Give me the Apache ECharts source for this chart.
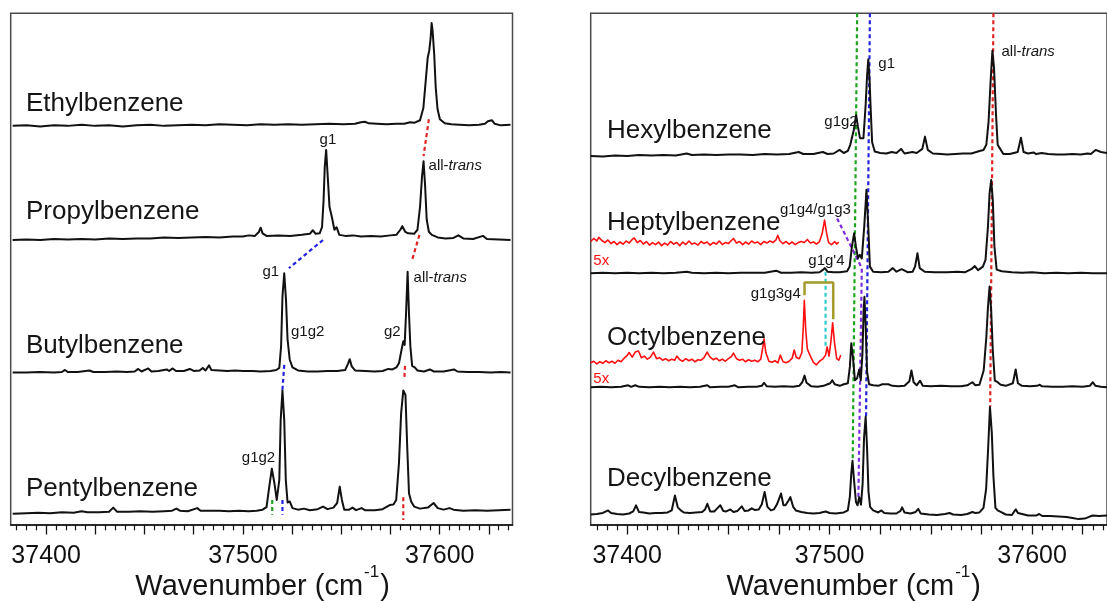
<!DOCTYPE html>
<html><head><meta charset="utf-8">
<script src="https://cdn.jsdelivr.net/npm/echarts@6/dist/echarts.min.js"></script>
<style>html,body{margin:0;padding:0;background:#fff}#c{width:1107px;height:601px}</style>
</head><body><div id="c"></div>
<script>
// ---------------- DATA ----------------
const wnMin = 37382, wnMax = 37637;
const tickLabels = [37400, 37500, 37600];
const leftNames = ['Ethylbenzene', 'Propylbenzene', 'Butylbenzene', 'Pentylbenzene'];
const rightNames = ['Hexylbenzene', 'Heptylbenzene', 'Octylbenzene', 'Decylbenzene'];
const leftOffsets = [78.0, 55.7, 29.8, 2.5];
const rightOffsets = [72.3, 49.2, 26.9, 2.05];
const redOffsets = [55.1, 32.2]; // 5x traces: heptyl, octyl

const ethyl = [[37383,0],[37390,0.1],[37397,-0.1],[37404,0.1],[37411,0],[37418,0.2],[37425,0],[37432,0.1],[37439,-0.1],[37446,0.1],[37453,0.2],[37460,0],[37467,0.1],[37474,0.2],[37481,0.1],[37488,0.3],[37495,0.2],[37502,0.1],[37509,0.3],[37516,0.2],[37523,0.3],[37530,0.2],[37537,0.3],[37544,0.4],[37551,0.3],[37557,0.4],[37560,0.7],[37562,0.8],[37564,0.5],[37568,0.4],[37573,0.3],[37578,0.4],[37582,0.4],[37585,0.7],[37587,0.6],[37590,1.1],[37591.7,3.5],[37592.9,8.8],[37593.9,13.3],[37594.7,14.7],[37595.4,17.2],[37595.9,20.1],[37596.4,18.6],[37597.2,14.1],[37598.0,7.4],[37598.9,3.3],[37600.1,1.3],[37602.6,0.5],[37606,0.3],[37610,0.2],[37615,0.1],[37620,0.2],[37623,0.4],[37624.5,0.9],[37625.5,0.8],[37626.5,1.1],[37628,0.4],[37631,0.1],[37636,0.2]];

const propyl = [[37383,0],[37390,0.1],[37397,0],[37404,0.2],[37411,0.1],[37418,0.2],[37425,0.1],[37432,0.3],[37439,0.2],[37446,0.3],[37453,0.3],[37460,0.5],[37467,0.4],[37474,0.5],[37481,0.6],[37488,0.5],[37495,0.7],[37500,0.7],[37503,0.9],[37506,0.8],[37508,1.5],[37509,2.4],[37510,1.3],[37512,0.8],[37518,0.9],[37524,0.8],[37530,1.0],[37534,1.2],[37535.5,1.9],[37537,1.2],[37539,1.3],[37540.2,2.5],[37541,7.8],[37541.6,14.3],[37542.3,17.6],[37543,13.1],[37544,6.5],[37545.2,4.5],[37546.5,2.0],[37547.6,2.5],[37549,1.0],[37552,0.8],[37556,0.9],[37560,0.7],[37565,0.8],[37570,0.7],[37575,0.9],[37578,1.0],[37580,2.0],[37581,2.7],[37582.5,1.6],[37584,1.3],[37587,1.2],[37588.7,2.0],[37590,6.4],[37591,12.3],[37591.8,15.4],[37592.6,10.5],[37593.4,4.0],[37594.5,1.6],[37596,1.0],[37599,0.5],[37603,0.3],[37607,0.4],[37609.5,0.9],[37612,0.3],[37617,0.2],[37622,0.8],[37624,0.2],[37630,0.1],[37636,0]];

const butyl = [[37383,0],[37390,0],[37397,0.1],[37404,0],[37408,0.1],[37409.6,0.5],[37411,0.1],[37416,0.1],[37422,0.4],[37424,0.1],[37430,0.1],[37436,0.2],[37441,0.1],[37445,0.2],[37446.8,0.7],[37448.5,0.2],[37451.9,0.8],[37453.5,0.2],[37457,0.3],[37461.3,0.6],[37462.5,0.3],[37464.3,0.8],[37466,0.3],[37470,0.3],[37473,0.7],[37475,0.3],[37478,0.4],[37479.6,0.9],[37481,0.4],[37482.8,1.4],[37484,0.5],[37488,0.4],[37492,0.3],[37496,0.4],[37500,0.3],[37505,0.3],[37509,0.2],[37514,0.3],[37517,0.5],[37518.5,0.9],[37519.4,5.1],[37520.1,14.8],[37521,19.4],[37521.9,14.2],[37522.7,6.4],[37523.8,2.5],[37525.2,1.0],[37528,0.4],[37533,0.2],[37538,0.2],[37543,0.3],[37548,0.3],[37552,0.5],[37553.5,1.8],[37554.3,2.6],[37555.3,1.2],[37557,0.4],[37562,0.3],[37567,0.2],[37571,0.3],[37573.9,0.7],[37576,0.6],[37578,1.0],[37579.3,1.8],[37580.6,4.4],[37581.5,6.1],[37582.2,5.4],[37582.9,11.5],[37583.7,19.7],[37584.4,11.5],[37585.1,5.1],[37586,1.3],[37587.3,1.0],[37588.7,0.4],[37592,0.2],[37595,0.6],[37597,0.2],[37602,0.2],[37607.3,0.6],[37609,0.2],[37614,0.1],[37620,0.1],[37626,0],[37631,0.1],[37636,0]];

const pentyl = [[37383,-0.3],[37390,-0.2],[37396,-0.1],[37402,-0.2],[37408,0],[37414,-0.1],[37418,0.2],[37421,0],[37427,0],[37432,0.1],[37434.1,0.9],[37436,0.1],[37442,0.1],[37448,0.2],[37454,0.1],[37460,0.2],[37464,0.3],[37466.2,0.7],[37468,0.3],[37472,0.2],[37476.8,0.8],[37478.5,0.3],[37483,0.3],[37488,0.3],[37493,0.2],[37498,0.3],[37503,0.2],[37507,0.3],[37510,0.5],[37512,1.0],[37513.4,5.0],[37514.7,8.5],[37516,5.7],[37517.2,2.4],[37518.5,6.3],[37519.2,18.0],[37520.1,23.8],[37521,18.0],[37521.8,6.3],[37522.7,1.9],[37523.8,2.1],[37525.2,0.8],[37528,0.5],[37531,0.7],[37534,0.4],[37538,0.6],[37540.7,1.1],[37543,0.6],[37546,0.9],[37547.9,1.8],[37549.2,5.0],[37550.3,2.4],[37551.5,0.5],[37554,0.5],[37555.7,0.9],[37557.5,0.4],[37560.3,0.8],[37562,0.4],[37567,0.4],[37571,0.6],[37574.6,1.4],[37576.5,1.5],[37577.9,2.4],[37579.3,9.6],[37580.4,19.3],[37581.5,23.8],[37582.6,22.9],[37583.5,12.8],[37584.4,3.7],[37585.5,2.1],[37587,1.1],[37590,0.7],[37594,0.9],[37596.9,1.8],[37599,0.8],[37602,0.5],[37605,0.8],[37607,0.5],[37612,0.3],[37618,0.4],[37624,0.3],[37630,0.4],[37636,0.5]];

const hexyl = [[37382,-0.2],[37388,-0.3],[37394,-0.1],[37400,-0.2],[37406,0],[37412,-0.1],[37418,0],[37424,-0.1],[37429.4,0.3],[37432,0],[37438,0.1],[37444,0],[37450,0.1],[37456,0.1],[37462,0],[37468,0.2],[37474,0.1],[37480,0.2],[37484.7,0.6],[37487,0.2],[37492,0.2],[37496.6,0.6],[37499,0.2],[37502,0.3],[37504.9,1.0],[37507,0.4],[37509,0.8],[37510.2,2.0],[37512,5.0],[37513.1,7.8],[37514,5.5],[37515,3.3],[37516.7,3.3],[37517.8,9.8],[37518.5,15.5],[37519.1,18.7],[37519.7,15],[37520.2,9.8],[37521,2.5],[37522.3,0.7],[37525,0.4],[37528,0.3],[37530.7,0.6],[37533,0.4],[37535.3,1.2],[37537,0.3],[37540.9,0.6],[37543,0.4],[37545.8,1.2],[37547.1,3.6],[37548.5,1.0],[37551,0.3],[37555,0.2],[37558,0.1],[37562,0.2],[37566,0.3],[37570,0.3],[37574.1,0.8],[37576,1.0],[37577.4,2.0],[37578.5,6.5],[37579.5,14.3],[37580.4,20.4],[37581.2,17],[37582.2,7.8],[37583,2.0],[37584.1,1.3],[37585.8,0.2],[37589,0.2],[37592.9,0.6],[37594.5,3.4],[37595.8,0.6],[37598,0.3],[37600.7,0.5],[37602,0.2],[37604.7,0.4],[37608,0.2],[37612,0.1],[37616,0.1],[37620,0.2],[37624,0.1],[37627.4,0.3],[37629,0.2],[37631.4,1.0],[37634,0.6],[37637,0.4]];

const heptyl = [[37382,0],[37388,0.1],[37394,0],[37400,0.1],[37406,0],[37412,0.1],[37418,0],[37424,0.1],[37429.4,0.3],[37432,0.1],[37438,0],[37444,0.1],[37450,0],[37456,0.1],[37462,0.1],[37468,0.1],[37473.6,0.5],[37476,0.1],[37481,0.1],[37486,0.2],[37491,0.1],[37495,0.2],[37496.5,0.6],[37497.6,1.0],[37499,0.3],[37502,0.2],[37505,0.2],[37508.6,0.4],[37509.9,1.3],[37511,5.2],[37512.1,7.8],[37513,5.2],[37514,2.9],[37514.9,3.6],[37515.9,2.9],[37517.1,9.1],[37518.2,16.3],[37519.1,9.1],[37519.9,1.3],[37521.5,0.3],[37525.6,0.2],[37529,0.3],[37531.2,1.0],[37533,0.3],[37535.6,0.8],[37538.5,0.2],[37541,0.3],[37542.2,1.3],[37543.4,3.9],[37544.5,1.0],[37547,0.3],[37552,0.2],[37558,0.2],[37563,0.3],[37567,0.2],[37570,0.8],[37571.7,1.4],[37573.3,0.6],[37575.7,1.3],[37577,2.6],[37578.2,9.1],[37579,15.6],[37579.8,18.2],[37580.6,14.3],[37581.4,5.2],[37582.5,0.7],[37585,0.4],[37590,0.2],[37595,0.1],[37600,0.2],[37606,0],[37612,0.1],[37618,0],[37624,0.1],[37630,0],[37637,0]];

const octyl = [[37382,0],[37387,0.1],[37392,0],[37397,0.1],[37400.5,0.4],[37402,0.1],[37404,0.4],[37406,0.1],[37411,0],[37416,0.1],[37421,0],[37426,0.1],[37431,0],[37436,0.1],[37439.6,0.4],[37441,0],[37446,0.1],[37450,0.1],[37453.2,0.4],[37455,0],[37460,0.1],[37464,0.1],[37466.5,0.3],[37467.6,0.9],[37469,0.2],[37473,0.1],[37477,0.2],[37482,0.1],[37485,0.3],[37486.5,1.0],[37487.6,2.3],[37488.6,0.9],[37491,0.2],[37494,0.1],[37497,0.3],[37499,0.6],[37500.3,0.8],[37501.3,1.4],[37502.5,0.6],[37505,0.3],[37507,0.6],[37509,0.8],[37510,4.0],[37510.7,8.6],[37511.5,6.0],[37512.5,1.4],[37513.6,1.8],[37514.6,3.5],[37515.4,1.4],[37516.2,6.5],[37516.8,15],[37517.2,17.7],[37517.8,12],[37518.5,3.0],[37519.5,0.6],[37521.5,0.4],[37524,0.3],[37526,0.6],[37529,0.6],[37531,0.3],[37534,0.2],[37537,0.3],[37539.4,1.2],[37540.4,3.3],[37541.5,1.0],[37543,0.4],[37544.7,1.3],[37546,0.3],[37550,0.2],[37555,0.3],[37560,0.2],[37565,0.2],[37568,0.4],[37570.5,1.0],[37572,0.4],[37574,0.5],[37576.1,3.3],[37577.4,9.8],[37578.2,15.6],[37579,19.7],[37579.8,15],[37580.6,7.2],[37581.6,1.3],[37583,1.0],[37584.5,0.5],[37587,0.3],[37590.5,0.8],[37591.9,3.5],[37593,0.8],[37595,0.3],[37599,0.2],[37602.5,0.3],[37603.8,0.5],[37605,0.2],[37610,0.1],[37615,0.1],[37620,0.2],[37625,0.1],[37628.5,0.3],[37630,1.0],[37631.3,0.3],[37634,0.1],[37637,0]];

const decyl = [[37382,0],[37385,0.1],[37388,0.3],[37390.6,0.8],[37392,0.3],[37395,0.1],[37398,0],[37401,0.2],[37403,0.6],[37404.4,1.8],[37405.8,0.5],[37408,0.4],[37411,0.2],[37414,0.3],[37417,0.3],[37420,0.4],[37422,0.8],[37423.6,3.7],[37425,1.4],[37426.5,0.8],[37428,0.4],[37431,0.3],[37434,0.4],[37437,0.5],[37438.5,1.0],[37439.6,2.1],[37441,0.6],[37443,0.6],[37444.5,1.2],[37446,1.8],[37447.5,0.7],[37449,0.6],[37451,1.0],[37452.5,0.5],[37454.5,0.7],[37456.6,1.6],[37458,0.7],[37460,0.8],[37461.5,1.2],[37463,0.9],[37465,1.0],[37466.5,2.0],[37467.9,4.4],[37469.3,1.5],[37471,0.8],[37472.5,1.0],[37474,2.0],[37476,4.1],[37477.2,1.8],[37478.2,1.8],[37479.5,2.6],[37480.6,3.4],[37482,1.5],[37483.3,0.8],[37486,0.5],[37489,0.3],[37492,0.2],[37495,0.3],[37498,0.6],[37500,0.3],[37503,0.2],[37505,0.3],[37507,0.4],[37509,0.8],[37510,3.5],[37510.7,8.0],[37511.3,10.5],[37512,7.0],[37513,2.5],[37513.8,1.8],[37514.6,3.4],[37515.5,1.9],[37516.3,6],[37517,15],[37517.8,19.1],[37518.5,13],[37519.2,4.5],[37520,1.5],[37521.5,0.8],[37524,0.4],[37525.6,0.8],[37527,0.3],[37530,0.2],[37533,0.2],[37535,0.7],[37535.8,1.4],[37537,0.4],[37540,0.2],[37542.5,0.5],[37543.8,1.1],[37545,0.2],[37549,0],[37553,-0.1],[37557,0.1],[37559.2,0.3],[37561,0],[37565,-0.1],[37568,0.1],[37570.5,0.5],[37572,0.3],[37574,0.4],[37576,1.3],[37577.3,5],[37578.3,13],[37579.2,21],[37580.1,16],[37580.9,7.5],[37581.9,1.3],[37583,0.8],[37584.5,0.5],[37587,0],[37590,-0.1],[37591.2,0.6],[37592,1.0],[37593,0.3],[37595,0.1],[37598,-0.2],[37602,-0.2],[37603.5,0.1],[37605,-0.3],[37609,-0.3],[37613,-0.4],[37617,-0.5],[37620,-0.7],[37623,-0.9],[37626,-0.8],[37628.5,-0.4],[37630,-0.2],[37633,-0.3],[37637,-0.2]];

const heptylRed = [[37382,0.3],[37383.5,0.9],[37385,0.4],[37386,1.1],[37387.5,0.5],[37389,0.1],[37390.5,0.6],[37392,-0.1],[37393.5,0.3],[37395,-0.3],[37396.5,0.2],[37398,-0.2],[37399.5,0.4],[37401,0.0],[37402.5,0.7],[37403.5,1.0],[37405,0.1],[37406.5,0.5],[37408,-0.2],[37409.5,0.3],[37411,-0.4],[37412.5,0.1],[37414,-0.3],[37415.5,0.2],[37417,-0.5],[37418.5,0.0],[37420,-0.4],[37421.5,0.3],[37423,-0.2],[37424.5,0.1],[37426,-0.5],[37427.5,0.2],[37429,-0.3],[37430.5,0.4],[37432,-0.2],[37433.5,0.0],[37435,-0.4],[37436.5,0.3],[37438,-0.1],[37439.5,0.2],[37441,-0.4],[37442.5,0.1],[37444,-0.2],[37445.5,0.4],[37447,-0.3],[37448.5,0.1],[37450,-0.1],[37451.5,0.5],[37452.5,0.9],[37454,0.0],[37455.5,0.3],[37457,-0.3],[37458.5,0.2],[37460,-0.2],[37461.5,0.4],[37463,0.0],[37464.5,0.2],[37466,-0.3],[37467.5,0.3],[37469,0.0],[37470.5,0.4],[37472,0.1],[37473.5,0.6],[37474.4,1.5],[37475.5,0.4],[37477,-0.1],[37478.5,0.3],[37480,-0.2],[37481.5,0.2],[37483,-0.3],[37484.5,0.1],[37486,0.3],[37487.5,0.1],[37489,0.7],[37490.5,0.0],[37492,0.2],[37493.5,-0.2],[37495,0.3],[37496.3,1.8],[37497.5,4.5],[37498.5,2.0],[37499.5,0.1],[37501,-0.3],[37502.5,0.3],[37503.5,-0.2],[37504.5,0.2]];

const octylRed = [[37382,-0.5],[37383.5,-0.2],[37385,-0.7],[37386.5,-0.3],[37388,-0.6],[37389.5,-0.1],[37391,-0.5],[37392.5,-0.2],[37394,-0.6],[37395.5,0.0],[37397,-0.3],[37398.5,0.4],[37400,0.9],[37401,1.5],[37402.5,0.6],[37404,1.6],[37405.6,1.8],[37407,0.5],[37408.5,0.8],[37410,0.2],[37411.5,0.6],[37413,1.6],[37414.5,0.3],[37416,0.5],[37417.5,0.0],[37419,0.3],[37420.5,-0.1],[37422,0.2],[37423.5,0.0],[37424.5,0.8],[37426,0.1],[37427.5,-0.2],[37429,0.3],[37430.5,-0.1],[37432,0.2],[37433.5,-0.3],[37435,0.1],[37436.5,0.0],[37438,0.5],[37439.5,1.6],[37441,0.6],[37442.5,0.1],[37444,0.4],[37445.5,-0.1],[37447,0.2],[37448.5,-0.2],[37450,0.3],[37451.5,0.7],[37452.5,1.4],[37454,0.3],[37455.5,0.0],[37457,0.2],[37458.5,-0.3],[37460,0.1],[37461.5,-0.2],[37463,0.0],[37464.5,-0.3],[37466,0.2],[37467,2.5],[37467.6,4.2],[37468.5,1.5],[37470,-0.2],[37471.5,-0.4],[37473,-0.1],[37474.5,-0.5],[37475.6,1.0],[37477,-0.3],[37478.5,-0.5],[37480,-0.2],[37481.5,0.4],[37482.5,2.0],[37483.5,0.6],[37485,0.3],[37486.3,1.5],[37487,6.5],[37487.5,11.7],[37488.2,6],[37489,2.2],[37490.5,0.8],[37492,-0.4],[37493.5,-0.9],[37495,-0.2],[37496.5,0.2],[37498,1.0],[37498.8,2.6],[37499.7,0.8],[37500.6,3.5],[37501.5,7.3],[37502.4,3.5],[37503.5,0.3],[37504.5,0.0],[37505.5,1.0]];

const leftSpectra = [ethyl, propyl, butyl, pentyl];
const rightSpectra = [hexyl, heptyl, octyl, decyl];
const redSpectra = [heptylRed, octylRed];

// assignment guide lines: [colour, polyline points in (wavenumber, stacked intensity)]
const leftGuides = [
  ['#e02424', [[37594.5,79.3],[37591.8,72.1]]],
  ['#e02424', [[37589.7,56.7],[37586.0,51.8]]],
  ['#2323dd', [[37540.7,55.7],[37523.4,50.2]]],
  ['#2323dd', [[37521.0,31.3],[37520.1,26.4]]],
  ['#e02424', [[37582.4,31.1],[37582.0,28.5]]],
  ['#1ea51e', [[37514.9,4.9],[37514.9,2.0]]],
  ['#2323dd', [[37520.1,4.9],[37520.1,2.0]]],
  ['#e02424', [[37581.5,5.4],[37581.5,1.0]]]
];
const rightGuides = [
  ['#1ea51e', [[37513.6,100],[37511.4,12.7]]],
  ['#2323dd', [[37519.9,100],[37518.0,21.2]]],
  ['#e02424', [[37580.9,100],[37579.3,23.1]]],
  ['#7b2be0', [[37503.7,59.9],[37515.9,50.2],[37514.2,5.5]]],
  ['#2ccccc', [[37498.0,49.5],[37498.0,34.8]]]
];
const bracket = [[37487.6,44.9],[37487.6,47.4],[37501.8,47.4],[37501.8,40.2]];

// ---------------- CHART ----------------
const FONT = '"Liberation Sans", Arial, Helvetica, sans-serif';
const majorTicks = [], minorTicks = [];
for (let v = 37400; v <= 37625; v += 25) majorTicks.push(v);
for (let v = 37385; v <= 37635; v += 5) if (v % 25 !== 0) minorTicks.push(v);

const chart = echarts.init(document.getElementById('c'), null, {renderer: 'canvas'});

const grids = [
  {left: 10.7, top: 13.3, width: 501.8, height: 511.7},
  {left: 590.7, top: 13.3, width: 524, height: 511.7}
].map(g => Object.assign(g, {show: true, borderColor: '#4a4a4a', borderWidth: 1.5, backgroundColor: 'transparent', containLabel: false}));

function mainX(gi) {
  return {type: 'value', gridIndex: gi, min: wnMin, max: wnMax, position: 'bottom',
    axisLine: {show: true, onZero: false, lineStyle: {color: '#111', width: 1.6}},
    axisTick: {show: true, inside: false, length: 9.5, customValues: majorTicks, lineStyle: {color: '#111', width: 1.3}},
    axisLabel: {show: true, customValues: tickLabels, fontSize: 25, color: '#111', margin: 19, fontFamily: FONT, formatter: v => String(v)},
    splitLine: {show: false}};
}
function minorX(gi) {
  return {type: 'value', gridIndex: gi, min: wnMin, max: wnMax, position: 'bottom',
    axisLine: {show: false, onZero: false},
    axisTick: {show: true, inside: false, length: 5.3, customValues: minorTicks, lineStyle: {color: '#111', width: 1.2}},
    axisLabel: {show: false}, splitLine: {show: false}};
}
const xAxes = [mainX(0), minorX(0), mainX(1), minorX(1)];
const yAxes = [0, 1].map(gi => ({type: 'value', gridIndex: gi, min: 0, max: 100, show: false}));

const series = [];
function specSeries(data, off, gi, color, width) {
  return {type: 'line', xAxisIndex: gi * 2, yAxisIndex: gi, data: data.map(p => [p[0], p[1] + off]),
    symbol: 'none', showSymbol: false, silent: true, z: 5,
    lineStyle: {color: color, width: width, join: 'round'}};
}
leftSpectra.forEach((d, i) => series.push(specSeries(d, leftOffsets[i], 0, '#111', 2)));
rightSpectra.forEach((d, i) => series.push(specSeries(d, rightOffsets[i], 1, '#111', 2)));
redSpectra.forEach((d, i) => series.push(specSeries(d, redOffsets[i], 1, '#ff1010', 1.6)));

function guideSeries(g, gi) {
  return {type: 'line', xAxisIndex: gi * 2, yAxisIndex: gi, data: g[1], symbol: 'none', silent: true, z: 3,
    lineStyle: {color: g[0], width: 2.2, type: [4, 3]}};
}
leftGuides.forEach(g => series.push(guideSeries(g, 0)));
rightGuides.forEach(g => series.push(guideSeries(g, 1)));
series.push({type: 'line', xAxisIndex: 2, yAxisIndex: 1, data: bracket, symbol: 'none', silent: true, z: 4,
  lineStyle: {color: '#a39b2a', width: 2.5}});

// ---------------- TEXT ----------------
const mctx = document.createElement('canvas').getContext('2d');
function tw(text, size, italic) { mctx.font = (italic ? 'italic ' : '') + size + 'px ' + FONT; return mctx.measureText(text).width; }
function T(text, x, y, size, color, italic, align) {
  const a = align || 'left';
  return {type: 'text', silent: true, z: 20,
    style: {text: text, x: x, y: y, font: (italic ? 'italic ' : '') + size + 'px ' + FONT, fill: color || '#151515',
      align: a, verticalAlign: 'middle', textAlign: a, textVerticalAlign: 'middle'}};
}
const graphics = [];
const nameLayoutLeft = [[26, 104], [26, 212.3], [26, 345.7], [26, 488.7]];
const nameLayoutRight = [[607, 131.3], [607, 223], [607, 338], [607, 478.5]];
leftNames.forEach((n, i) => graphics.push(T(n, nameLayoutLeft[i][0], nameLayoutLeft[i][1], 26)));
rightNames.forEach((n, i) => graphics.push(T(n, nameLayoutRight[i][0], nameLayoutRight[i][1], 26)));

const peakLabels = [
  ['g1', 319.6, 140], ['g1', 262.5, 271.5], ['g1g2', 291, 332], ['g2', 384, 332], ['g1g2', 241.8, 458],
  ['g1g2', 824.3, 122], ['g1', 878.3, 63.5], ['g1g4/g1g3', 780, 210], ["g1g'4", 808.3, 260.5], ['g1g3g4', 750.7, 294]
];
peakLabels.forEach(l => graphics.push(T(l[0], l[1], l[2], 15)));
graphics.push(T('5x', 593.3, 260.5, 15, '#ff1010'));
graphics.push(T('5x', 593.3, 379, 15, '#ff1010'));

const allTransPos = [[428.6, 166], [413.6, 278.3], [1001.5, 52]];
const wAll = tw('all-', 15, false);
allTransPos.forEach(p => {
  graphics.push(T('all-', p[0], p[1], 15));
  graphics.push(T('trans', p[0] + wAll, p[1], 15, null, true));
});

// axis titles: "Wavenumber (cm^-1)"
[261.6, 852.7].forEach(cx => {
  const w1 = tw('Wavenumber (cm', 29), w2 = tw('-1', 17), w3 = tw(')', 29);
  const x0 = cx - (w1 + w2 + w3) / 2;
  graphics.push(T('Wavenumber (cm', x0, 586.5, 29));
  graphics.push(T('-1', x0 + w1 + 1, 572, 17));
  graphics.push(T(')', x0 + w1 + w2 + 2, 586.5, 29));
});

chart.setOption({
  animation: false,
  backgroundColor: '#ffffff',
  grid: grids,
  xAxis: xAxes,
  yAxis: yAxes,
  series: series,
  graphic: {elements: graphics}
});
</script>
</body></html>
